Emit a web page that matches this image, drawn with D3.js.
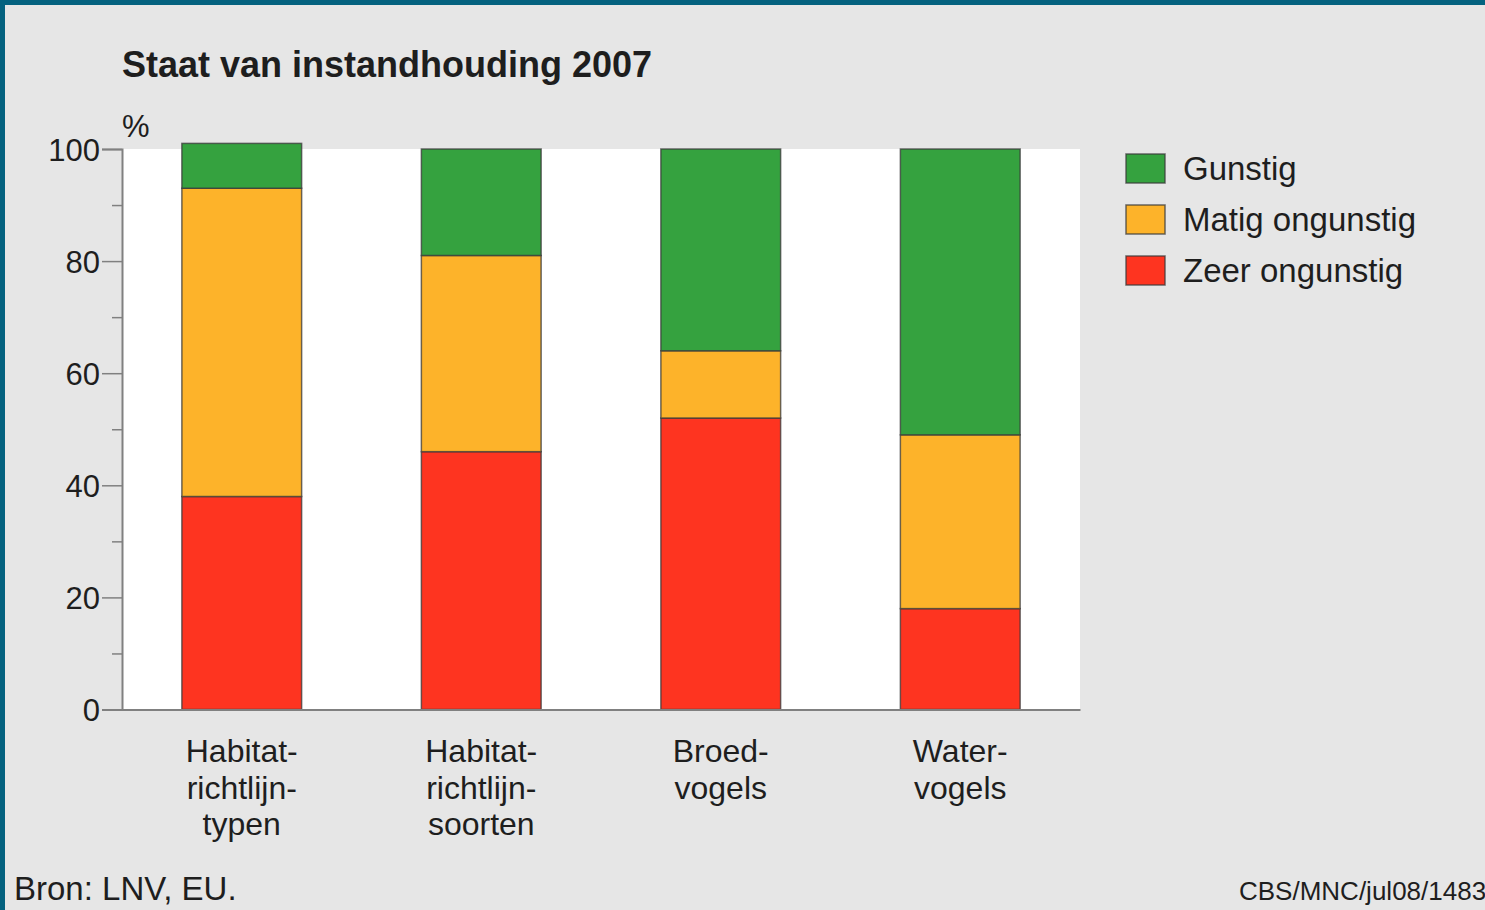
<!DOCTYPE html>
<html>
<head>
<meta charset="utf-8">
<script src="https://cdn.jsdelivr.net/npm/d3@7"></script>
<style>
  html, body { margin: 0; padding: 0; background: #04627f; }
  svg { display: block; }
  text { font-family: "Liberation Sans", Arial, sans-serif; fill: #1e1e1e; }
</style>
</head>
<body>
<svg id="chart"></svg>
<script>
// Categories (multi-line labels) and stacked series values in %
const categories = ['Habitatrichtlijntypen', 'Habitatrichtlijnsoorten', 'Broedvogels', 'Watervogels'];
const categoryLines = [
    ['Habitat-', 'richtlijn-', 'typen'],
    ['Habitat-', 'richtlijn-', 'soorten'],
    ['Broed-', 'vogels'],
    ['Water-', 'vogels']
];
const seriesNames = ['Zeer ongunstig', 'Matig ongunstig', 'Gunstig'];
const zeerOngunstig = [38, 46, 52, 18];
const matigOngunstig = [55, 35, 12, 31];
const gunstig = [8, 19, 36, 51];
const yTicks = [0, 20, 40, 60, 80, 100];
const yMinorTicks = [10, 30, 50, 70, 90];

const colors = {
    'Gunstig': '#35a23f',
    'Matig ongunstig': '#fdb32a',
    'Zeer ongunstig': '#fe3420'
};

const width = 1485, height = 910;
const plot = { left: 122, right: 1080, top: 149, bottom: 709.5 };

const svg = d3.select('#chart')
    .attr('width', width)
    .attr('height', height);

// Light panel inside the blue frame (top and left edges)
svg.append('rect')
    .attr('x', 5).attr('y', 5)
    .attr('width', width - 5).attr('height', height - 5)
    .attr('fill', '#e6e6e6');

// Scales
const x = d3.scaleBand()
    .domain(categories)
    .range([plot.left, plot.right])
    .paddingInner(0.5)
    .paddingOuter(0.25);

const y = d3.scaleLinear()
    .domain([0, 100])
    .range([plot.bottom, plot.top]);

// White plot area
svg.append('rect')
    .attr('x', plot.left).attr('y', plot.top)
    .attr('width', plot.right - plot.left)
    .attr('height', plot.bottom - plot.top)
    .attr('fill', '#ffffff');

// Stack data
const rows = categories.map((c, i) => ({
    category: c,
    'Zeer ongunstig': zeerOngunstig[i],
    'Matig ongunstig': matigOngunstig[i],
    'Gunstig': gunstig[i]
}));
const stacked = d3.stack().keys(seriesNames)(rows);

svg.append('g')
    .selectAll('g')
    .data(stacked)
    .enter()
    .append('g')
    .attr('fill', d => colors[d.key])
    .selectAll('rect')
    .data(d => d)
    .enter()
    .append('rect')
    .attr('x', d => x(d.data.category))
    .attr('width', x.bandwidth())
    .attr('y', d => y(d[1]))
    .attr('height', d => y(d[0]) - y(d[1]))
    .attr('stroke', '#3a3a3a')
    .attr('stroke-opacity', 0.75)
    .attr('stroke-width', 1.5);

// Y axis (major ticks)
const yAxis = svg.append('g')
    .attr('transform', `translate(${plot.left},0)`)
    .call(d3.axisLeft(y).tickValues(yTicks).tickSize(20).tickPadding(2));
yAxis.select('.domain').attr('stroke', '#808080').attr('stroke-width', 2);
yAxis.selectAll('.tick line').attr('stroke', '#808080').attr('stroke-width', 1.5);
yAxis.selectAll('.tick text')
    .attr('font-size', 31)
    .attr('fill', '#1e1e1e')
    .attr('dy', '0.36em')
    .style('font-family', '"Liberation Sans", Arial, sans-serif');

// Minor ticks
const yMinor = svg.append('g')
    .attr('transform', `translate(${plot.left},0)`)
    .call(d3.axisLeft(y).tickValues(yMinorTicks).tickSize(10).tickFormat(''));
yMinor.select('.domain').remove();
yMinor.selectAll('.tick line').attr('stroke', '#808080').attr('stroke-width', 1.5);

// Bottom axis line
const xAxis = svg.append('g')
    .attr('transform', `translate(0,${plot.bottom})`)
    .call(d3.axisBottom(x).tickSize(0).tickFormat(''));
xAxis.select('.domain').attr('stroke', '#808080').attr('stroke-width', 2);

// Category labels
categories.forEach((c, i) => {
    const t = svg.append('text')
        .attr('x', x(c) + x.bandwidth() / 2)
        .attr('y', 762)
        .attr('text-anchor', 'middle')
        .attr('font-size', 32);
    categoryLines[i].forEach((line, j) => {
        t.append('tspan')
            .attr('x', x(c) + x.bandwidth() / 2)
            .attr('dy', j === 0 ? 0 : 36.5)
            .text(line);
    });
});

// Title and unit
svg.append('text')
    .attr('x', 122).attr('y', 77)
    .attr('font-size', 36)
    .attr('font-weight', 'bold')
    .text('Staat van instandhouding 2007');

svg.append('text')
    .attr('x', 122).attr('y', 137)
    .attr('font-size', 31)
    .text('%');

// Legend
const legendOrder = ['Gunstig', 'Matig ongunstig', 'Zeer ongunstig'];
const legend = svg.append('g')
    .attr('transform', 'translate(1126,154)');
legendOrder.forEach((name, i) => {
    const g = legend.append('g').attr('transform', `translate(0,${i * 51})`);
    g.append('rect')
        .attr('width', 39).attr('height', 29)
        .attr('fill', colors[name])
        .attr('stroke', '#3a3a3a')
        .attr('stroke-opacity', 0.75)
        .attr('stroke-width', 1.5);
    g.append('text')
        .attr('x', 57).attr('y', 26)
        .attr('font-size', 33)
        .text(name);
});

// Footer
svg.append('text')
    .attr('x', 14).attr('y', 900)
    .attr('font-size', 33)
    .text('Bron: LNV, EU.');

svg.append('text')
    .attr('x', 1239).attr('y', 900)
    .attr('font-size', 26)
    .text('CBS/MNC/jul08/1483');
</script>
</body>
</html>
